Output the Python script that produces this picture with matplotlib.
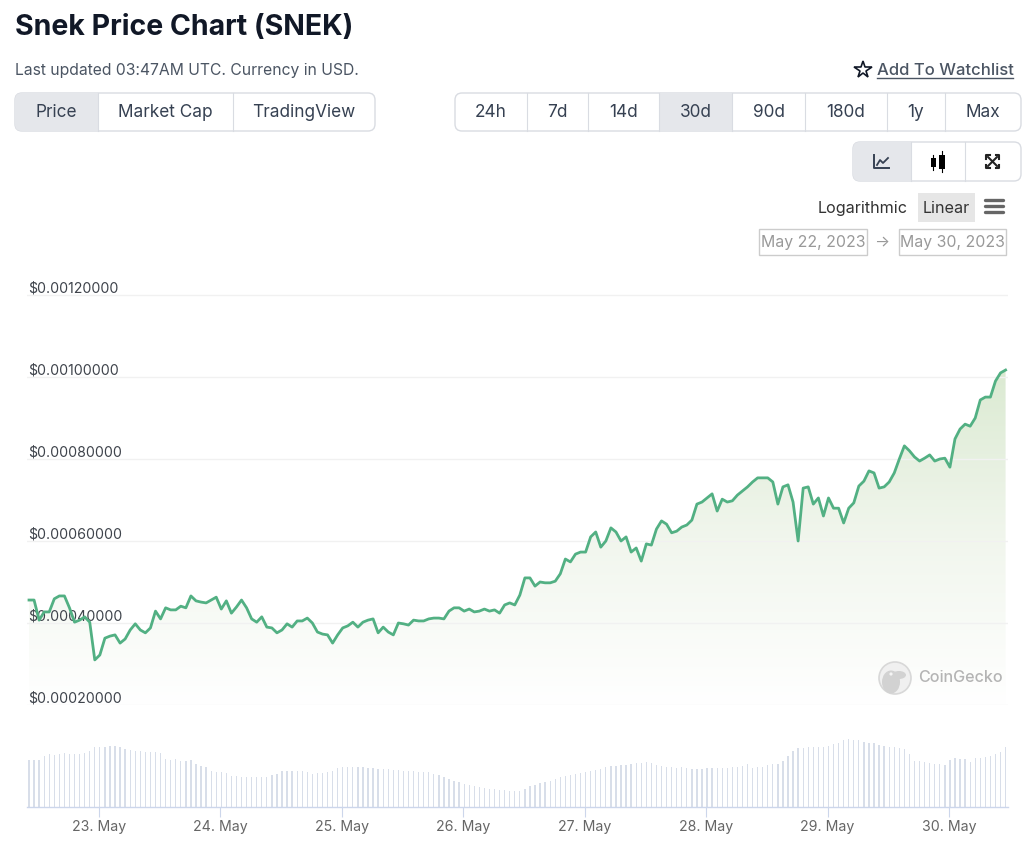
import numpy as np
import pandas as pd
import matplotlib
matplotlib.use("Agg")
import matplotlib.pyplot as plt
import matplotlib.dates as mdates
from matplotlib.colors import LinearSegmentedColormap
from matplotlib.patches import FancyBboxPatch, Rectangle, Circle, Ellipse
from matplotlib.ticker import FuncFormatter

plt.rcParams["font.family"] = ["Inter", "DejaVu Sans"]

# price in millionths of a USD, one point per hour
price_micro = [
    456, 456, 407, 427, 427, 459, 466, 466, 437, 402,
    407, 415, 402, 310, 322, 363, 368, 371, 351, 361,
    383, 398, 383, 376, 388, 429, 410, 437, 432, 432,
    441, 437, 466, 454, 451, 449, 456, 463, 434, 454,
    424, 439, 456, 437, 410, 402, 415, 390, 388, 376,
    383, 398, 390, 405, 405, 412, 400, 378, 373, 371,
    351, 371, 388, 393, 402, 390, 402, 407, 410, 376,
    390, 378, 371, 400, 398, 395, 407, 405, 405, 410,
    412, 412, 410, 429, 437, 437, 429, 434, 427, 429,
    434, 429, 432, 424, 444, 449, 444, 468, 510, 510,
    490, 500, 498, 498, 502, 520, 556, 549, 568, 573,
    573, 610, 622, 585, 600, 632, 622, 600, 610, 573,
    583, 551, 593, 590, 629, 649, 641, 620, 624, 634,
    639, 651, 690, 695, 705, 715, 673, 702, 695, 698,
    712, 722, 732, 744, 754, 754, 754, 744, 690, 732,
    737, 695, 600, 729, 732, 690, 705, 661, 705, 680,
    680, 644, 680, 693, 734, 746, 771, 766, 729, 732,
    744, 766, 800, 832, 820, 805, 795, 802, 810, 795,
    800, 802, 780, 849, 873, 885, 880, 900, 944, 951,
    951, 990, 1010, 1017,
]

# volume, relative units
volume = [
    47, 47, 47, 51, 53, 52, 53, 54, 53, 53,
    53, 54, 56, 60, 60, 60, 61, 61, 60, 58,
    57, 56, 56, 55, 55, 55, 54, 48, 47, 48,
    46, 46, 47, 43, 41, 40, 36, 35, 35, 34,
    31, 31, 30, 30, 30, 30, 30, 30, 32, 33,
    36, 36, 36, 36, 36, 35, 33, 34, 34, 35,
    36, 39, 40, 40, 40, 40, 40, 39, 39, 38,
    38, 38, 37, 37, 36, 36, 36, 35, 35, 35,
    33, 32, 30, 28, 26, 25, 23, 22, 21, 20,
    19, 18, 18, 17, 17, 16, 16, 16, 18, 21,
    22, 24, 25, 26, 28, 30, 31, 32, 33, 34,
    35, 36, 37, 38, 40, 41, 41, 42, 42, 43,
    44, 44, 45, 44, 42, 41, 40, 40, 39, 40,
    39, 38, 38, 38, 39, 39, 39, 39, 39, 40,
    40, 41, 43, 39, 40, 40, 42, 43, 43, 46,
    51, 56, 59, 59, 60, 60, 60, 60, 61, 63,
    64, 67, 68, 67, 67, 65, 64, 64, 62, 61,
    60, 60, 59, 58, 53, 46, 46, 45, 44, 43,
    43, 42, 47, 49, 48, 48, 45, 49, 49, 50,
    51, 53, 55, 60,
]

price_ticks = [0.0002, 0.0004, 0.0006, 0.0008, 0.0010, 0.0012]
day_ticks = ["2023-05-23", "2023-05-24", "2023-05-25", "2023-05-26",
             "2023-05-27", "2023-05-28", "2023-05-29", "2023-05-30"]

range_tabs = ["24h", "7d", "14d", "30d", "90d", "180d", "1y", "Max"]
metric_tabs = ["Price", "Market Cap", "TradingView"]

W, H = 1024, 856
PX_PER_DAY = 121.44
X_23MAY = 99.0

times = pd.date_range("2023-05-22 10:10", periods=len(price_micro), freq="h")
prices = np.array(price_micro) * 1e-6
t_num = mdates.date2num(times)
day0 = mdates.date2num(pd.Timestamp("2023-05-23"))
xlim = (day0 + (27 - X_23MAY) / PX_PER_DAY, day0 + (1008 - X_23MAY) / PX_PER_DAY)

fig = plt.figure(figsize=(W / 100, H / 100), dpi=100, facecolor="white")


def axes_px(left, top, right, bottom, **kw):
    return fig.add_axes([left / W, 1 - bottom / H, (right - left) / W, (bottom - top) / H], **kw)


# ---- price panel ----
ax = axes_px(27, 285, 1008, 705)
px = 0.0002 / 82
ax.set_xlim(*xlim)
ax.set_ylim(0.0002, 0.0012 + 10 * px)

ax.set_yticks(price_ticks)
ax.yaxis.set_major_formatter(FuncFormatter(lambda v, _: f"${v:.8f}"))
ax.grid(axis="y", color="#f1f1f1", lw=1, zorder=3)
ax.set_axisbelow(False)
ax.tick_params(axis="y", length=0, pad=-0.5, labelsize=10.2, labelcolor="#3f444c", zorder=8)
ax.tick_params(axis="x", length=0, labelbottom=False)
for t in ax.get_yticklabels():
    t.set_ha("left")
    t.set_va("bottom")
    t.set_zorder(8)
for s in ax.spines.values():
    s.set_visible(False)
ax.patch.set_alpha(0)

# gradient under the line
cmap = LinearSegmentedColormap.from_list("fade", ["#dbead2", "#f1f6ed", "#ffffff"], N=256)
top_val = float(prices.max())
grad = np.linspace(0, 1, 256).reshape(-1, 1)
poly = ax.fill_between(t_num, prices, 0.0002, color="none", lw=0)
img = ax.imshow(grad, cmap=cmap, extent=(t_num[0], t_num[-1], 0.0002, top_val),
                aspect="auto", origin="upper", zorder=1, interpolation="bilinear")
img.set_clip_path(poly.get_paths()[0], transform=ax.transData)
ax.set_xlim(*xlim)
ax.set_ylim(0.0002, 0.0012 + 10 * px)

ax.plot(t_num, prices, color="#52b083", lw=2.0, solid_joinstyle="round", zorder=5)

# ---- volume panel ----
vax = axes_px(27, 725, 1008, 807)
vax.bar(t_num, volume, width=1.3 / PX_PER_DAY, color="#d8dee9", lw=0)
vax.set_xlim(*xlim)
vax.set_ylim(0, 82)
vax.set_yticks([])
for name in ["top", "left", "right"]:
    vax.spines[name].set_visible(False)
vax.spines["bottom"].set_color("#ccd6eb")
vax.spines["bottom"].set_linewidth(1)
vax.set_xticks(mdates.date2num(pd.to_datetime(day_ticks)))
vax.xaxis.set_major_formatter(mdates.DateFormatter("%d. %b"))
vax.tick_params(axis="x", length=7, width=0.8, color="#ccd6eb", pad=2, labelsize=10.2, labelcolor="#666666")
vax.patch.set_alpha(0)

# ---- page furniture, in pixel coordinates ----
ui = fig.add_axes([0, 0, 1, 1], zorder=10)
ui.set_xlim(0, W)
ui.set_ylim(H, 0)
ui.axis("off")

TEXT = "#364152"
BORDER = "#d9dce2"
ACTIVE = "#e5e7eb"


def button_group(edges, top, bottom, active=None, labels=None):
    x0, x1 = edges[0], edges[-1]
    frame = FancyBboxPatch((x0, top), x1 - x0, bottom - top, boxstyle="round,pad=0,rounding_size=7",
                           fc="white", ec=BORDER, lw=1.0, zorder=2)
    ui.add_patch(frame)
    if active is not None:
        r = Rectangle((edges[active], top), edges[active + 1] - edges[active], bottom - top,
                      fc=ACTIVE, ec="none", zorder=3)
        ui.add_patch(r)
        r.set_clip_path(frame)
    for e in edges[1:-1]:
        ui.plot([e, e], [top, bottom], color=BORDER, lw=0.8, zorder=4)
    if labels:
        for i, lab in enumerate(labels):
            ui.text((edges[i] + edges[i + 1]) / 2, (top + bottom) / 2 + 0.5, lab, ha="center", va="center",
                    fontsize=12.4, color=TEXT, zorder=5)


ui.text(15, 27, "Snek Price Chart (SNEK)", fontsize=20.5, fontweight="bold", color="#111827", va="center")
ui.text(15, 70, "Last updated 03:47AM UTC. Currency in USD.", fontsize=11.3, color="#4b5563", va="center")

ui.plot([863], [69.5], marker="*", ms=13, mfc="white", mec="#111827", mew=1.2)
ui.text(877, 70, "Add To Watchlist", fontsize=12.0, color="#4b5563", va="center", fontweight="medium")
ui.plot([877, 1013], [77.5, 77.5], color="#4b5563", lw=1)

button_group([15, 98, 233, 375], 93, 131, active=0, labels=metric_tabs)
button_group([455, 527, 588, 659, 732, 805, 887, 945, 1021], 93, 131, active=3, labels=range_tabs)
button_group([853, 911, 965, 1021], 142, 181, active=0)

# line chart icon
ui.plot([874, 874, 889], [155, 168, 168], color=TEXT, lw=1.4, zorder=6)
ui.plot([877, 880, 883, 888], [165, 160, 163, 158], color=TEXT, lw=1.3, zorder=6)
# candlestick icon
ui.plot([933, 933], [155, 170], color="black", lw=0.8, zorder=6)
ui.add_patch(Rectangle((930.5, 158), 5, 9, fc="black", zorder=6))
ui.plot([942, 942], [151, 172], color="black", lw=0.8, zorder=6)
ui.add_patch(Rectangle((939, 155), 6, 14, fc="black", zorder=6))
# expand icon
ui.plot([988, 997], [157, 166], color="#222222", lw=1.5, zorder=6)
ui.plot([997, 988], [157, 166], color="#222222", lw=1.5, zorder=6)
for cx, cy, dx, dy in [(986, 155, 1, 1), (999, 155, -1, 1), (986, 168, 1, -1), (999, 168, -1, -1)]:
    ui.plot([cx + 3.5 * dx, cx, cx], [cy, cy, cy + 3.5 * dy], color="#222222", lw=1.5, zorder=6)

ui.text(818, 208, "Logarithmic", fontsize=11.6, color="#333333", va="center")
ui.add_patch(Rectangle((918, 193), 57, 29, fc="#e6e6e6", ec="none"))
ui.text(946.5, 208, "Linear", fontsize=11.6, color="#333333", va="center", ha="center")
for y in [199.5, 205.5, 212]:
    ui.plot([985, 1003], [y, y], color="#666666", lw=2.4, solid_capstyle="round")

for x0, x1, lab in [(759, 867, "May 22, 2023"), (899, 1006, "May 30, 2023")]:
    ui.add_patch(Rectangle((x0, 229), x1 - x0, 26, fc="white", ec="#cccccc", lw=1))
    ui.text((x0 + x1) / 2, 242, lab, fontsize=11.4, color="#999999", ha="center", va="center")
ui.text(882, 242, "\u2192", fontsize=11.4, color="#999999", ha="center", va="center")

# CoinGecko watermark
ui.add_patch(Circle((895, 678), 16, fc="#f0f0f0", ec="#d8d8d8", lw=1.2, zorder=6))
ui.add_patch(Ellipse((891, 682), 18, 23, fc="#d2d2d2", ec="none", zorder=7))
ui.add_patch(Ellipse((899, 675), 14, 8, fc="#d2d2d2", ec="none", zorder=7))
ui.add_patch(Circle((891, 674), 1.6, fc="#f5f5f5", ec="none", zorder=8))
ui.text(918, 677, "CoinGecko", fontsize=11.6, color="#b4b4b4", va="center", fontweight="medium", zorder=8)

fig.savefig("out.png", dpi=100)
